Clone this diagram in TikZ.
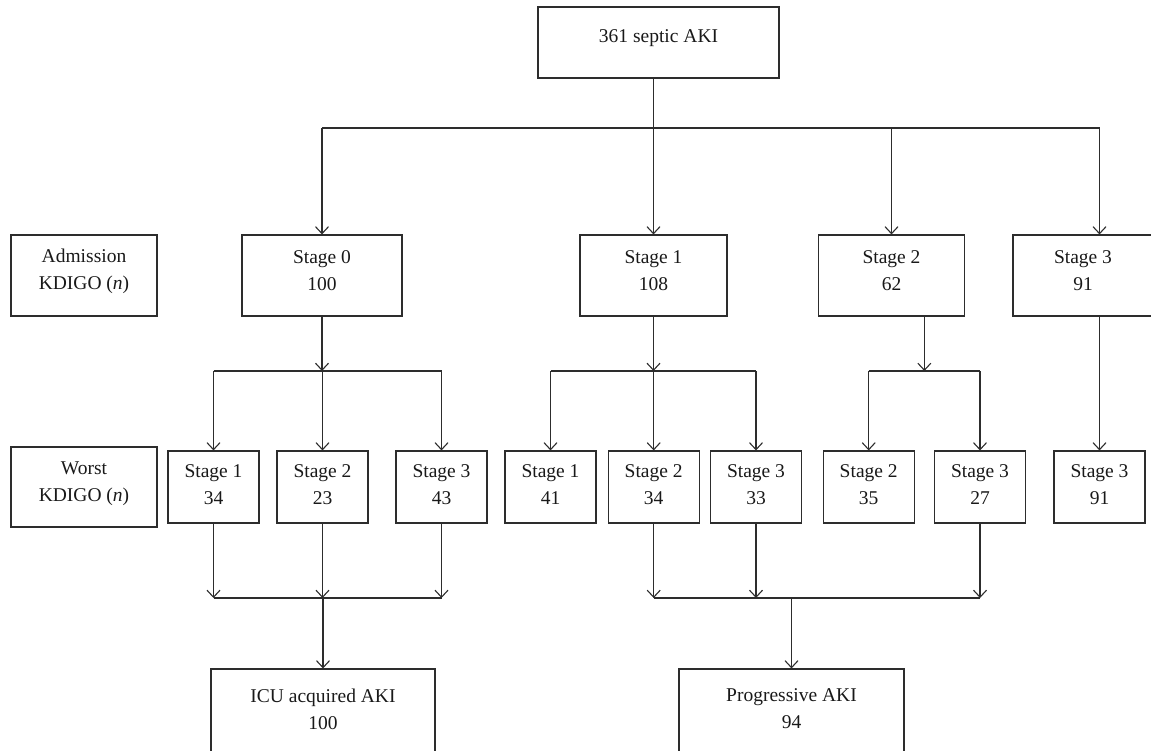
\documentclass[tikz,border=0pt]{standalone}
\usepackage{fontspec}
\setmainfont{Liberation Serif}
\usetikzlibrary{arrows.meta,calc}
\definecolor{lc}{RGB}{45,45,45}
\tikzset{
  bx/.style={draw=lc, line width=1.1pt, rectangle, inner sep=0pt, minimum height=#1},
  bx/.default=72,
  lab/.style={font=\fontsize{19.5}{27}\selectfont, align=center, text=black!90},
  ln/.style={draw=lc, line width=1.1pt},
  arr/.style={draw=lc, line width=1.1pt, -{Straight Barb[length=7pt,width=13pt]}},
}
\begin{document}
\begin{tikzpicture}[x=1pt,y=-1pt]
\useasboundingbox (0,0) rectangle (1151,750);
\clip (0,0) rectangle (1151,750);
% level coordinates
\coordinate (j0) at (0,128);
\coordinate (r2) at (0,371);
\coordinate (r3) at (0,598);
% top
\node[bx=71, minimum width=241, label={[lab,yshift=4pt]center:361 septic AKI}] (top) at (658.5,42.5) {};
% admission row
\node[bx=81, minimum width=146, label={[lab,yshift=4.5pt]center:{Admission\\KDIGO (\textit{n})}}] (adm) at (84,275.5) {};
\node[bx=81, minimum width=160, label={[lab,yshift=4.7pt]center:{Stage 0\\100}}] (a0) at (322,275.5) {};
\node[bx=81, minimum width=147, label={[lab,yshift=4.7pt]center:{Stage 1\\108}}] (a1) at (653.5,275.5) {};
\node[bx=81, minimum width=146, label={[lab,yshift=4.7pt]center:{Stage 2\\62}}] (a2) at (891.5,275.5) {};
\node[bx=81, minimum width=140, label={[lab,yshift=4.7pt]center:{Stage 3\\91}}] (a3) at (1083,275.5) {};
% worst row
\node[bx=80, minimum width=146, label={[lab,yshift=3.5pt]center:{Worst\\KDIGO (\textit{n})}}] (wl) at (84,487) {};
\node[bx, minimum width=91, label={[lab,yshift=2.5pt]center:{Stage 1\\34}}] (w1) at (213.5,487) {};
\node[bx, minimum width=91, label={[lab,yshift=2.5pt]center:{Stage 2\\23}}] (w2) at (322.5,487) {};
\node[bx, minimum width=91, label={[lab,yshift=2.5pt]center:{Stage 3\\43}}] (w3) at (441.5,487) {};
\node[bx, minimum width=91, label={[lab,yshift=2.5pt]center:{Stage 1\\41}}] (w4) at (550.5,487) {};
\node[bx, minimum width=91, label={[lab,yshift=2.5pt]center:{Stage 2\\34}}] (w5) at (653.7,487) {};
\node[bx, minimum width=91, label={[lab,yshift=2.5pt]center:{Stage 3\\33}}] (w6) at (756,487) {};
\node[bx, minimum width=91, label={[lab,yshift=2.5pt]center:{Stage 2\\35}}] (w7) at (868.7,487) {};
\node[bx, minimum width=91, label={[lab,yshift=2.5pt]center:{Stage 3\\27}}] (w8) at (980,487) {};
\node[bx, minimum width=91, label={[lab,yshift=2.5pt]center:{Stage 3\\91}}] (w9) at (1099.5,487) {};
% bottom
\node[bx=100, minimum width=224, label={[lab,yshift=10pt]center:{ICU acquired AKI\\100}}] (icu) at (323,719) {};
\node[bx=100, minimum width=225, label={[lab,yshift=10pt]center:{Progressive AKI\\94}}] (prog) at (791.5,719) {};
\coordinate (m2) at ($(w7.north)!0.5!(w8.north)$);
% top branching
\draw[ln] (top.south -| a1) -- (a1 |- j0);
\draw[ln] (a0 |- j0) -- (w9 |- j0);
\draw[arr] (a0 |- j0) -- (a0.north);
\draw[arr] (a1 |- j0) -- (a1.north);
\draw[arr] (a2 |- j0) -- (a2.north);
\draw[arr] (w9 |- j0) -- (a3.north -| w9);
% second branching
\draw[arr] (a0.south) -- (a0 |- r2);
\draw[ln] (w1 |- r2) -- (w3 |- r2);
\draw[arr] (w1 |- r2) -- (w1.north);
\draw[arr] (w2 |- r2) -- (w2.north);
\draw[arr] (w3 |- r2) -- (w3.north);
\draw[arr] (a1.south) -- (a1 |- r2);
\draw[ln] (w4 |- r2) -- (w6 |- r2);
\draw[arr] (w4 |- r2) -- (w4.north);
\draw[arr] (w5 |- r2) -- (w5.north);
\draw[arr] (w6 |- r2) -- (w6.north);
\draw[arr] (a2.south -| m2) -- (m2 |- r2);
\draw[ln] (w7 |- r2) -- (w8 |- r2);
\draw[arr] (w7 |- r2) -- (w7.north);
\draw[arr] (w8 |- r2) -- (w8.north);
\draw[arr] (a3.south -| w9) -- (w9.north);
% merging
\draw[arr] (w1.south) -- (w1 |- r3);
\draw[arr] (w2.south) -- (w2 |- r3);
\draw[arr] (w3.south) -- (w3 |- r3);
\draw[ln] (w1 |- r3) -- (w3 |- r3);
\draw[arr] (icu |- r3) -- (icu.north);
\draw[arr] (w5.south) -- (w5 |- r3);
\draw[arr] (w6.south) -- (w6 |- r3);
\draw[arr] (w8.south) -- (w8 |- r3);
\draw[ln] (w5 |- r3) -- (w8 |- r3);
\draw[arr] (prog |- r3) -- (prog.north);
\end{tikzpicture}
\end{document}
